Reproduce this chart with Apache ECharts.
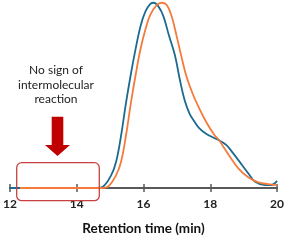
<!DOCTYPE html>
<html>
<head>
<meta charset="utf-8">
<script src="https://cdn.jsdelivr.net/npm/echarts@6/dist/echarts.min.js"></script>
<style>html,body{margin:0;padding:0;background:#fff}#c{width:287px;height:241px}</style>
</head>
<body>
<div id="c"></div>
<script>
// Retention time (min) vs. normalized signal
const blueX = [12, 14, 14.6, 14.785, 15.029, 15.176, 15.324, 15.471, 15.618, 15.765, 15.912, 16.059, 16.206, 16.303, 16.45, 16.597, 16.765, 16.941, 17.088, 17.235, 17.382, 17.529, 17.676, 17.874, 18.118, 18.265, 18.462, 18.559, 18.853, 19.147, 19.344, 19.638, 19.824, 20];
const blueY = [0, 0, 0, 0.7, 6.8, 13.8, 27.7, 45.2, 60.9, 74.9, 87.1, 94.9, 99.0, 99.6, 97.5, 92.3, 81.8, 71.4, 58.3, 47.0, 39.9, 35.6, 32.1, 29.2, 26.9, 25.7, 23.4, 21.6, 14.7, 7.7, 3.3, 1.6, 1.6, 3.8];
const orangeX = [12.3, 14, 14.75, 14.932, 15.176, 15.324, 15.471, 15.618, 15.765, 15.912, 16.059, 16.206, 16.403, 16.55, 16.697, 16.844, 16.991, 17.138, 17.285, 17.479, 17.676, 17.874, 18.118, 18.265, 18.412, 18.559, 18.853, 19.147, 19.441, 19.735, 20];
const orangeY = [0, 0, 0, 0.7, 6.8, 13.8, 27.7, 45.2, 60.9, 74.9, 85.3, 93.2, 98.4, 99.6, 98.4, 92.3, 81.8, 70.5, 60.1, 50.4, 42.6, 35.6, 28.6, 25.7, 21.6, 17.6, 10.3, 5.6, 3.0, 2.1, 1.6];
const xTicks = [12, 14, 16, 18, 20];
const noteLines = ['No sign of', 'intermolecular', 'reaction'];

const pair = (xs, ys) => xs.map((x, i) => [x, ys[i]]);
const chart = echarts.init(document.getElementById('c'));
const axisBase = {
  type: 'value', min: 12, max: 20, interval: 2, position: 'bottom',
  axisLine: { show: true, lineStyle: { color: '#595959', width: 2 } },
  splitLine: { show: false }
};
chart.setOption({
  animation: false,
  grid: { left: 7, right: 8, top: 2, bottom: 48 },
  xAxis: [
    Object.assign({}, axisBase, {
      axisTick: { show: true, length: 4, lineStyle: { color: '#595959', width: 1.5 } },
      axisLabel: { margin: 10, fontSize: 12, fontWeight: 'bold', color: '#222', fontFamily: 'Lato',
        formatter: v => xTicks.includes(v) ? String(v) : '' },
      name: 'Retention time (min)', nameLocation: 'middle', nameGap: 34,
      nameTextStyle: { fontSize: 13.5, fontWeight: 'bold', color: '#111', fontFamily: 'Lato' }
    }),
    Object.assign({}, axisBase, {
      axisTick: { show: true, inside: true, length: 4, lineStyle: { color: '#595959', width: 1.5 } },
      axisLabel: { show: false }
    })
  ],
  yAxis: { type: 'value', min: 0, max: 100, show: false },
  series: [
    { type: 'line', data: pair(blueX, blueY), smooth: 0.4, showSymbol: false,
      lineStyle: { color: '#1C6A91', width: 1.8 }, z: 3 },
    { type: 'line', data: pair(orangeX, orangeY), smooth: 0.4, showSymbol: false,
      lineStyle: { color: '#F47B3B', width: 1.8 }, z: 4 }
  ],
  graphic: [
    { type: 'text', x: 56, y: 63, style: { text: noteLines.join('\n'), align: 'center',
        fontSize: 12, lineHeight: 14.5, fill: '#222', fontFamily: 'Lato' } },
    { type: 'polygon', shape: { points: [[51.7,116.7],[63.3,116.7],[63.3,145],[70,145],[57.5,156],[45,145],[51.7,145]] },
      style: { fill: '#C00000' } },
    { type: 'rect', shape: { x: 16.7, y: 162.7, width: 82.6, height: 38, r: 5 },
      style: { fill: 'none', stroke: '#C94040', lineWidth: 1.3 }, z: 10 }
  ]
});
</script>
</body>
</html>
